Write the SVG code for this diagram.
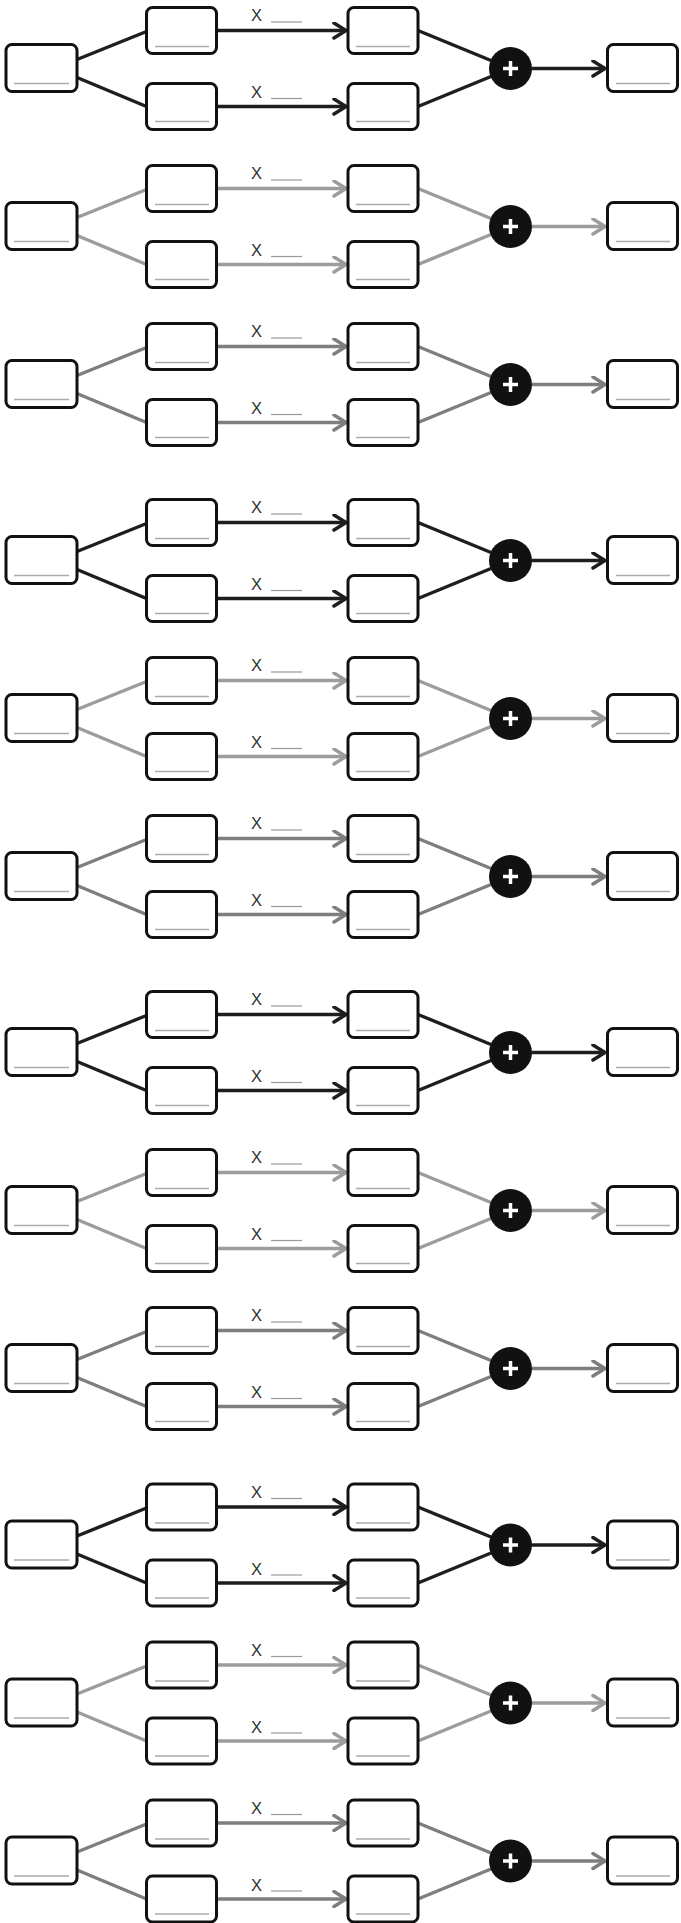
<svg xmlns="http://www.w3.org/2000/svg" width="681" height="1923" viewBox="0 0 681 1923">
<style>
.box{fill:#fff;stroke:#111;stroke-width:3}
.blank{stroke:#aaa;stroke-width:1.5;fill:none}
.sum{fill:#111}
.plus{stroke:#fff;stroke-width:3.5;fill:none}
.edge{fill:none;stroke-width:3.5}
.dark .edge{stroke:#1e1e1e}
.light .edge{stroke:#9c9c9c}
.mid .edge{stroke:#7e7e7e}
.dark .arr{marker-end:url(#ah-dark)}
.light .arr{marker-end:url(#ah-light)}
.mid .arr{marker-end:url(#ah-mid)}
.lbl{font-family:"Liberation Sans",Arial,sans-serif;font-size:16.5px;fill:#333}
.lblank{stroke:#9a9a9a;stroke-width:1.2}
</style>
<defs>
<marker id="ah-dark" viewBox="0 0 16 18" refX="12" refY="9" markerWidth="16" markerHeight="18" markerUnits="userSpaceOnUse" orient="auto"><path d="M2,1.5L14,9L2,16.5" fill="none" stroke="#1e1e1e" stroke-width="3.5" stroke-linecap="round" stroke-linejoin="round"/></marker>
<marker id="ah-light" viewBox="0 0 16 18" refX="12" refY="9" markerWidth="16" markerHeight="18" markerUnits="userSpaceOnUse" orient="auto"><path d="M2,1.5L14,9L2,16.5" fill="none" stroke="#9c9c9c" stroke-width="3.5" stroke-linecap="round" stroke-linejoin="round"/></marker>
<marker id="ah-mid" viewBox="0 0 16 18" refX="12" refY="9" markerWidth="16" markerHeight="18" markerUnits="userSpaceOnUse" orient="auto"><path d="M2,1.5L14,9L2,16.5" fill="none" stroke="#7e7e7e" stroke-width="3.5" stroke-linecap="round" stroke-linejoin="round"/></marker>
</defs>
<rect width="681" height="1923" fill="#fff"/>

<g id="row1" class="dark" transform="translate(0,68.5)">
<g id="r1-connectors"><line class="edge" x1="77" y1="-9" x2="146.5" y2="-37"/><line class="edge" x1="77" y1="9" x2="146.5" y2="38"/><line class="edge arr" x1="216.5" y1="-38" x2="344" y2="-38"/><line class="edge arr" x1="216.5" y1="38" x2="344" y2="38"/><line class="edge" x1="418" y1="-38" x2="491" y2="-8"/><line class="edge" x1="418" y1="38" x2="491" y2="8"/><line class="edge arr" x1="532" y1="0" x2="603" y2="0"/><text class="lbl" x="251" y="-47.5">X</text><line class="lblank" x1="271" y1="-46.5" x2="302" y2="-46.5"/><text class="lbl" x="251" y="29.5">X</text><line class="lblank" x1="271" y1="30" x2="302" y2="30"/></g>
<g id="r1-in"><rect class="box" x="6" y="-24" width="71" height="47" rx="6"/><line class="blank" x1="14" y1="15" x2="69" y2="15"/></g>
<g id="r1-a"><rect class="box" x="146.5" y="-61" width="70" height="46" rx="6"/><line class="blank" x1="155" y1="-22" x2="209" y2="-22"/></g>
<g id="r1-b"><rect class="box" x="146.5" y="15" width="70" height="46" rx="6"/><line class="blank" x1="155" y1="53" x2="209" y2="53"/></g>
<g id="r1-c"><rect class="box" x="348" y="-61" width="70" height="46" rx="6"/><line class="blank" x1="356" y1="-22" x2="410" y2="-22"/></g>
<g id="r1-d"><rect class="box" x="348" y="15" width="70" height="46" rx="6"/><line class="blank" x1="356" y1="53" x2="410" y2="53"/></g>
<g id="r1-sum"><circle class="sum" cx="510.5" cy="0" r="21.5"/><path class="plus" d="M503,0H518M510.5,-7.5V7.5"/></g>
<g id="r1-out"><rect class="box" x="607.5" y="-24" width="70" height="47" rx="6"/><line class="blank" x1="616" y1="15" x2="670" y2="15"/></g>
</g>

<g id="row2" class="light" transform="translate(0,226.5)">
<g id="r2-connectors"><line class="edge" x1="77" y1="-9" x2="146.5" y2="-37"/><line class="edge" x1="77" y1="9" x2="146.5" y2="38"/><line class="edge arr" x1="216.5" y1="-38" x2="344" y2="-38"/><line class="edge arr" x1="216.5" y1="38" x2="344" y2="38"/><line class="edge" x1="418" y1="-38" x2="491" y2="-8"/><line class="edge" x1="418" y1="38" x2="491" y2="8"/><line class="edge arr" x1="532" y1="0" x2="603" y2="0"/><text class="lbl" x="251" y="-47.5">X</text><line class="lblank" x1="271" y1="-46.5" x2="302" y2="-46.5"/><text class="lbl" x="251" y="29.5">X</text><line class="lblank" x1="271" y1="30" x2="302" y2="30"/></g>
<g id="r2-in"><rect class="box" x="6" y="-24" width="71" height="47" rx="6"/><line class="blank" x1="14" y1="15" x2="69" y2="15"/></g>
<g id="r2-a"><rect class="box" x="146.5" y="-61" width="70" height="46" rx="6"/><line class="blank" x1="155" y1="-22" x2="209" y2="-22"/></g>
<g id="r2-b"><rect class="box" x="146.5" y="15" width="70" height="46" rx="6"/><line class="blank" x1="155" y1="53" x2="209" y2="53"/></g>
<g id="r2-c"><rect class="box" x="348" y="-61" width="70" height="46" rx="6"/><line class="blank" x1="356" y1="-22" x2="410" y2="-22"/></g>
<g id="r2-d"><rect class="box" x="348" y="15" width="70" height="46" rx="6"/><line class="blank" x1="356" y1="53" x2="410" y2="53"/></g>
<g id="r2-sum"><circle class="sum" cx="510.5" cy="0" r="21.5"/><path class="plus" d="M503,0H518M510.5,-7.5V7.5"/></g>
<g id="r2-out"><rect class="box" x="607.5" y="-24" width="70" height="47" rx="6"/><line class="blank" x1="616" y1="15" x2="670" y2="15"/></g>
</g>

<g id="row3" class="mid" transform="translate(0,384.5)">
<g id="r3-connectors"><line class="edge" x1="77" y1="-9" x2="146.5" y2="-37"/><line class="edge" x1="77" y1="9" x2="146.5" y2="38"/><line class="edge arr" x1="216.5" y1="-38" x2="344" y2="-38"/><line class="edge arr" x1="216.5" y1="38" x2="344" y2="38"/><line class="edge" x1="418" y1="-38" x2="491" y2="-8"/><line class="edge" x1="418" y1="38" x2="491" y2="8"/><line class="edge arr" x1="532" y1="0" x2="603" y2="0"/><text class="lbl" x="251" y="-47.5">X</text><line class="lblank" x1="271" y1="-46.5" x2="302" y2="-46.5"/><text class="lbl" x="251" y="29.5">X</text><line class="lblank" x1="271" y1="30" x2="302" y2="30"/></g>
<g id="r3-in"><rect class="box" x="6" y="-24" width="71" height="47" rx="6"/><line class="blank" x1="14" y1="15" x2="69" y2="15"/></g>
<g id="r3-a"><rect class="box" x="146.5" y="-61" width="70" height="46" rx="6"/><line class="blank" x1="155" y1="-22" x2="209" y2="-22"/></g>
<g id="r3-b"><rect class="box" x="146.5" y="15" width="70" height="46" rx="6"/><line class="blank" x1="155" y1="53" x2="209" y2="53"/></g>
<g id="r3-c"><rect class="box" x="348" y="-61" width="70" height="46" rx="6"/><line class="blank" x1="356" y1="-22" x2="410" y2="-22"/></g>
<g id="r3-d"><rect class="box" x="348" y="15" width="70" height="46" rx="6"/><line class="blank" x1="356" y1="53" x2="410" y2="53"/></g>
<g id="r3-sum"><circle class="sum" cx="510.5" cy="0" r="21.5"/><path class="plus" d="M503,0H518M510.5,-7.5V7.5"/></g>
<g id="r3-out"><rect class="box" x="607.5" y="-24" width="70" height="47" rx="6"/><line class="blank" x1="616" y1="15" x2="670" y2="15"/></g>
</g>

<g id="row4" class="dark" transform="translate(0,560.5)">
<g id="r4-connectors"><line class="edge" x1="77" y1="-9" x2="146.5" y2="-37"/><line class="edge" x1="77" y1="9" x2="146.5" y2="38"/><line class="edge arr" x1="216.5" y1="-38" x2="344" y2="-38"/><line class="edge arr" x1="216.5" y1="38" x2="344" y2="38"/><line class="edge" x1="418" y1="-38" x2="491" y2="-8"/><line class="edge" x1="418" y1="38" x2="491" y2="8"/><line class="edge arr" x1="532" y1="0" x2="603" y2="0"/><text class="lbl" x="251" y="-47.5">X</text><line class="lblank" x1="271" y1="-46.5" x2="302" y2="-46.5"/><text class="lbl" x="251" y="29.5">X</text><line class="lblank" x1="271" y1="30" x2="302" y2="30"/></g>
<g id="r4-in"><rect class="box" x="6" y="-24" width="71" height="47" rx="6"/><line class="blank" x1="14" y1="15" x2="69" y2="15"/></g>
<g id="r4-a"><rect class="box" x="146.5" y="-61" width="70" height="46" rx="6"/><line class="blank" x1="155" y1="-22" x2="209" y2="-22"/></g>
<g id="r4-b"><rect class="box" x="146.5" y="15" width="70" height="46" rx="6"/><line class="blank" x1="155" y1="53" x2="209" y2="53"/></g>
<g id="r4-c"><rect class="box" x="348" y="-61" width="70" height="46" rx="6"/><line class="blank" x1="356" y1="-22" x2="410" y2="-22"/></g>
<g id="r4-d"><rect class="box" x="348" y="15" width="70" height="46" rx="6"/><line class="blank" x1="356" y1="53" x2="410" y2="53"/></g>
<g id="r4-sum"><circle class="sum" cx="510.5" cy="0" r="21.5"/><path class="plus" d="M503,0H518M510.5,-7.5V7.5"/></g>
<g id="r4-out"><rect class="box" x="607.5" y="-24" width="70" height="47" rx="6"/><line class="blank" x1="616" y1="15" x2="670" y2="15"/></g>
</g>

<g id="row5" class="light" transform="translate(0,718.5)">
<g id="r5-connectors"><line class="edge" x1="77" y1="-9" x2="146.5" y2="-37"/><line class="edge" x1="77" y1="9" x2="146.5" y2="38"/><line class="edge arr" x1="216.5" y1="-38" x2="344" y2="-38"/><line class="edge arr" x1="216.5" y1="38" x2="344" y2="38"/><line class="edge" x1="418" y1="-38" x2="491" y2="-8"/><line class="edge" x1="418" y1="38" x2="491" y2="8"/><line class="edge arr" x1="532" y1="0" x2="603" y2="0"/><text class="lbl" x="251" y="-47.5">X</text><line class="lblank" x1="271" y1="-46.5" x2="302" y2="-46.5"/><text class="lbl" x="251" y="29.5">X</text><line class="lblank" x1="271" y1="30" x2="302" y2="30"/></g>
<g id="r5-in"><rect class="box" x="6" y="-24" width="71" height="47" rx="6"/><line class="blank" x1="14" y1="15" x2="69" y2="15"/></g>
<g id="r5-a"><rect class="box" x="146.5" y="-61" width="70" height="46" rx="6"/><line class="blank" x1="155" y1="-22" x2="209" y2="-22"/></g>
<g id="r5-b"><rect class="box" x="146.5" y="15" width="70" height="46" rx="6"/><line class="blank" x1="155" y1="53" x2="209" y2="53"/></g>
<g id="r5-c"><rect class="box" x="348" y="-61" width="70" height="46" rx="6"/><line class="blank" x1="356" y1="-22" x2="410" y2="-22"/></g>
<g id="r5-d"><rect class="box" x="348" y="15" width="70" height="46" rx="6"/><line class="blank" x1="356" y1="53" x2="410" y2="53"/></g>
<g id="r5-sum"><circle class="sum" cx="510.5" cy="0" r="21.5"/><path class="plus" d="M503,0H518M510.5,-7.5V7.5"/></g>
<g id="r5-out"><rect class="box" x="607.5" y="-24" width="70" height="47" rx="6"/><line class="blank" x1="616" y1="15" x2="670" y2="15"/></g>
</g>

<g id="row6" class="mid" transform="translate(0,876.5)">
<g id="r6-connectors"><line class="edge" x1="77" y1="-9" x2="146.5" y2="-37"/><line class="edge" x1="77" y1="9" x2="146.5" y2="38"/><line class="edge arr" x1="216.5" y1="-38" x2="344" y2="-38"/><line class="edge arr" x1="216.5" y1="38" x2="344" y2="38"/><line class="edge" x1="418" y1="-38" x2="491" y2="-8"/><line class="edge" x1="418" y1="38" x2="491" y2="8"/><line class="edge arr" x1="532" y1="0" x2="603" y2="0"/><text class="lbl" x="251" y="-47.5">X</text><line class="lblank" x1="271" y1="-46.5" x2="302" y2="-46.5"/><text class="lbl" x="251" y="29.5">X</text><line class="lblank" x1="271" y1="30" x2="302" y2="30"/></g>
<g id="r6-in"><rect class="box" x="6" y="-24" width="71" height="47" rx="6"/><line class="blank" x1="14" y1="15" x2="69" y2="15"/></g>
<g id="r6-a"><rect class="box" x="146.5" y="-61" width="70" height="46" rx="6"/><line class="blank" x1="155" y1="-22" x2="209" y2="-22"/></g>
<g id="r6-b"><rect class="box" x="146.5" y="15" width="70" height="46" rx="6"/><line class="blank" x1="155" y1="53" x2="209" y2="53"/></g>
<g id="r6-c"><rect class="box" x="348" y="-61" width="70" height="46" rx="6"/><line class="blank" x1="356" y1="-22" x2="410" y2="-22"/></g>
<g id="r6-d"><rect class="box" x="348" y="15" width="70" height="46" rx="6"/><line class="blank" x1="356" y1="53" x2="410" y2="53"/></g>
<g id="r6-sum"><circle class="sum" cx="510.5" cy="0" r="21.5"/><path class="plus" d="M503,0H518M510.5,-7.5V7.5"/></g>
<g id="r6-out"><rect class="box" x="607.5" y="-24" width="70" height="47" rx="6"/><line class="blank" x1="616" y1="15" x2="670" y2="15"/></g>
</g>

<g id="row7" class="dark" transform="translate(0,1052.5)">
<g id="r7-connectors"><line class="edge" x1="77" y1="-9" x2="146.5" y2="-37"/><line class="edge" x1="77" y1="9" x2="146.5" y2="38"/><line class="edge arr" x1="216.5" y1="-38" x2="344" y2="-38"/><line class="edge arr" x1="216.5" y1="38" x2="344" y2="38"/><line class="edge" x1="418" y1="-38" x2="491" y2="-8"/><line class="edge" x1="418" y1="38" x2="491" y2="8"/><line class="edge arr" x1="532" y1="0" x2="603" y2="0"/><text class="lbl" x="251" y="-47.5">X</text><line class="lblank" x1="271" y1="-46.5" x2="302" y2="-46.5"/><text class="lbl" x="251" y="29.5">X</text><line class="lblank" x1="271" y1="30" x2="302" y2="30"/></g>
<g id="r7-in"><rect class="box" x="6" y="-24" width="71" height="47" rx="6"/><line class="blank" x1="14" y1="15" x2="69" y2="15"/></g>
<g id="r7-a"><rect class="box" x="146.5" y="-61" width="70" height="46" rx="6"/><line class="blank" x1="155" y1="-22" x2="209" y2="-22"/></g>
<g id="r7-b"><rect class="box" x="146.5" y="15" width="70" height="46" rx="6"/><line class="blank" x1="155" y1="53" x2="209" y2="53"/></g>
<g id="r7-c"><rect class="box" x="348" y="-61" width="70" height="46" rx="6"/><line class="blank" x1="356" y1="-22" x2="410" y2="-22"/></g>
<g id="r7-d"><rect class="box" x="348" y="15" width="70" height="46" rx="6"/><line class="blank" x1="356" y1="53" x2="410" y2="53"/></g>
<g id="r7-sum"><circle class="sum" cx="510.5" cy="0" r="21.5"/><path class="plus" d="M503,0H518M510.5,-7.5V7.5"/></g>
<g id="r7-out"><rect class="box" x="607.5" y="-24" width="70" height="47" rx="6"/><line class="blank" x1="616" y1="15" x2="670" y2="15"/></g>
</g>

<g id="row8" class="light" transform="translate(0,1210.5)">
<g id="r8-connectors"><line class="edge" x1="77" y1="-9" x2="146.5" y2="-37"/><line class="edge" x1="77" y1="9" x2="146.5" y2="38"/><line class="edge arr" x1="216.5" y1="-38" x2="344" y2="-38"/><line class="edge arr" x1="216.5" y1="38" x2="344" y2="38"/><line class="edge" x1="418" y1="-38" x2="491" y2="-8"/><line class="edge" x1="418" y1="38" x2="491" y2="8"/><line class="edge arr" x1="532" y1="0" x2="603" y2="0"/><text class="lbl" x="251" y="-47.5">X</text><line class="lblank" x1="271" y1="-46.5" x2="302" y2="-46.5"/><text class="lbl" x="251" y="29.5">X</text><line class="lblank" x1="271" y1="30" x2="302" y2="30"/></g>
<g id="r8-in"><rect class="box" x="6" y="-24" width="71" height="47" rx="6"/><line class="blank" x1="14" y1="15" x2="69" y2="15"/></g>
<g id="r8-a"><rect class="box" x="146.5" y="-61" width="70" height="46" rx="6"/><line class="blank" x1="155" y1="-22" x2="209" y2="-22"/></g>
<g id="r8-b"><rect class="box" x="146.5" y="15" width="70" height="46" rx="6"/><line class="blank" x1="155" y1="53" x2="209" y2="53"/></g>
<g id="r8-c"><rect class="box" x="348" y="-61" width="70" height="46" rx="6"/><line class="blank" x1="356" y1="-22" x2="410" y2="-22"/></g>
<g id="r8-d"><rect class="box" x="348" y="15" width="70" height="46" rx="6"/><line class="blank" x1="356" y1="53" x2="410" y2="53"/></g>
<g id="r8-sum"><circle class="sum" cx="510.5" cy="0" r="21.5"/><path class="plus" d="M503,0H518M510.5,-7.5V7.5"/></g>
<g id="r8-out"><rect class="box" x="607.5" y="-24" width="70" height="47" rx="6"/><line class="blank" x1="616" y1="15" x2="670" y2="15"/></g>
</g>

<g id="row9" class="mid" transform="translate(0,1368.5)">
<g id="r9-connectors"><line class="edge" x1="77" y1="-9" x2="146.5" y2="-37"/><line class="edge" x1="77" y1="9" x2="146.5" y2="38"/><line class="edge arr" x1="216.5" y1="-38" x2="344" y2="-38"/><line class="edge arr" x1="216.5" y1="38" x2="344" y2="38"/><line class="edge" x1="418" y1="-38" x2="491" y2="-8"/><line class="edge" x1="418" y1="38" x2="491" y2="8"/><line class="edge arr" x1="532" y1="0" x2="603" y2="0"/><text class="lbl" x="251" y="-47.5">X</text><line class="lblank" x1="271" y1="-46.5" x2="302" y2="-46.5"/><text class="lbl" x="251" y="29.5">X</text><line class="lblank" x1="271" y1="30" x2="302" y2="30"/></g>
<g id="r9-in"><rect class="box" x="6" y="-24" width="71" height="47" rx="6"/><line class="blank" x1="14" y1="15" x2="69" y2="15"/></g>
<g id="r9-a"><rect class="box" x="146.5" y="-61" width="70" height="46" rx="6"/><line class="blank" x1="155" y1="-22" x2="209" y2="-22"/></g>
<g id="r9-b"><rect class="box" x="146.5" y="15" width="70" height="46" rx="6"/><line class="blank" x1="155" y1="53" x2="209" y2="53"/></g>
<g id="r9-c"><rect class="box" x="348" y="-61" width="70" height="46" rx="6"/><line class="blank" x1="356" y1="-22" x2="410" y2="-22"/></g>
<g id="r9-d"><rect class="box" x="348" y="15" width="70" height="46" rx="6"/><line class="blank" x1="356" y1="53" x2="410" y2="53"/></g>
<g id="r9-sum"><circle class="sum" cx="510.5" cy="0" r="21.5"/><path class="plus" d="M503,0H518M510.5,-7.5V7.5"/></g>
<g id="r9-out"><rect class="box" x="607.5" y="-24" width="70" height="47" rx="6"/><line class="blank" x1="616" y1="15" x2="670" y2="15"/></g>
</g>

<g id="row10" class="dark" transform="translate(0,1545)">
<g id="r10-connectors"><line class="edge" x1="77" y1="-9" x2="146.5" y2="-37"/><line class="edge" x1="77" y1="9" x2="146.5" y2="38"/><line class="edge arr" x1="216.5" y1="-38" x2="344" y2="-38"/><line class="edge arr" x1="216.5" y1="38" x2="344" y2="38"/><line class="edge" x1="418" y1="-38" x2="491" y2="-8"/><line class="edge" x1="418" y1="38" x2="491" y2="8"/><line class="edge arr" x1="532" y1="0" x2="603" y2="0"/><text class="lbl" x="251" y="-47.5">X</text><line class="lblank" x1="271" y1="-46.5" x2="302" y2="-46.5"/><text class="lbl" x="251" y="29.5">X</text><line class="lblank" x1="271" y1="30" x2="302" y2="30"/></g>
<g id="r10-in"><rect class="box" x="6" y="-24" width="71" height="47" rx="6"/><line class="blank" x1="14" y1="15" x2="69" y2="15"/></g>
<g id="r10-a"><rect class="box" x="146.5" y="-61" width="70" height="46" rx="6"/><line class="blank" x1="155" y1="-22" x2="209" y2="-22"/></g>
<g id="r10-b"><rect class="box" x="146.5" y="15" width="70" height="46" rx="6"/><line class="blank" x1="155" y1="53" x2="209" y2="53"/></g>
<g id="r10-c"><rect class="box" x="348" y="-61" width="70" height="46" rx="6"/><line class="blank" x1="356" y1="-22" x2="410" y2="-22"/></g>
<g id="r10-d"><rect class="box" x="348" y="15" width="70" height="46" rx="6"/><line class="blank" x1="356" y1="53" x2="410" y2="53"/></g>
<g id="r10-sum"><circle class="sum" cx="510.5" cy="0" r="21.5"/><path class="plus" d="M503,0H518M510.5,-7.5V7.5"/></g>
<g id="r10-out"><rect class="box" x="607.5" y="-24" width="70" height="47" rx="6"/><line class="blank" x1="616" y1="15" x2="670" y2="15"/></g>
</g>

<g id="row11" class="light" transform="translate(0,1703)">
<g id="r11-connectors"><line class="edge" x1="77" y1="-9" x2="146.5" y2="-37"/><line class="edge" x1="77" y1="9" x2="146.5" y2="38"/><line class="edge arr" x1="216.5" y1="-38" x2="344" y2="-38"/><line class="edge arr" x1="216.5" y1="38" x2="344" y2="38"/><line class="edge" x1="418" y1="-38" x2="491" y2="-8"/><line class="edge" x1="418" y1="38" x2="491" y2="8"/><line class="edge arr" x1="532" y1="0" x2="603" y2="0"/><text class="lbl" x="251" y="-47.5">X</text><line class="lblank" x1="271" y1="-46.5" x2="302" y2="-46.5"/><text class="lbl" x="251" y="29.5">X</text><line class="lblank" x1="271" y1="30" x2="302" y2="30"/></g>
<g id="r11-in"><rect class="box" x="6" y="-24" width="71" height="47" rx="6"/><line class="blank" x1="14" y1="15" x2="69" y2="15"/></g>
<g id="r11-a"><rect class="box" x="146.5" y="-61" width="70" height="46" rx="6"/><line class="blank" x1="155" y1="-22" x2="209" y2="-22"/></g>
<g id="r11-b"><rect class="box" x="146.5" y="15" width="70" height="46" rx="6"/><line class="blank" x1="155" y1="53" x2="209" y2="53"/></g>
<g id="r11-c"><rect class="box" x="348" y="-61" width="70" height="46" rx="6"/><line class="blank" x1="356" y1="-22" x2="410" y2="-22"/></g>
<g id="r11-d"><rect class="box" x="348" y="15" width="70" height="46" rx="6"/><line class="blank" x1="356" y1="53" x2="410" y2="53"/></g>
<g id="r11-sum"><circle class="sum" cx="510.5" cy="0" r="21.5"/><path class="plus" d="M503,0H518M510.5,-7.5V7.5"/></g>
<g id="r11-out"><rect class="box" x="607.5" y="-24" width="70" height="47" rx="6"/><line class="blank" x1="616" y1="15" x2="670" y2="15"/></g>
</g>

<g id="row12" class="mid" transform="translate(0,1861)">
<g id="r12-connectors"><line class="edge" x1="77" y1="-9" x2="146.5" y2="-37"/><line class="edge" x1="77" y1="9" x2="146.5" y2="38"/><line class="edge arr" x1="216.5" y1="-38" x2="344" y2="-38"/><line class="edge arr" x1="216.5" y1="38" x2="344" y2="38"/><line class="edge" x1="418" y1="-38" x2="491" y2="-8"/><line class="edge" x1="418" y1="38" x2="491" y2="8"/><line class="edge arr" x1="532" y1="0" x2="603" y2="0"/><text class="lbl" x="251" y="-47.5">X</text><line class="lblank" x1="271" y1="-46.5" x2="302" y2="-46.5"/><text class="lbl" x="251" y="29.5">X</text><line class="lblank" x1="271" y1="30" x2="302" y2="30"/></g>
<g id="r12-in"><rect class="box" x="6" y="-24" width="71" height="47" rx="6"/><line class="blank" x1="14" y1="15" x2="69" y2="15"/></g>
<g id="r12-a"><rect class="box" x="146.5" y="-61" width="70" height="46" rx="6"/><line class="blank" x1="155" y1="-22" x2="209" y2="-22"/></g>
<g id="r12-b"><rect class="box" x="146.5" y="15" width="70" height="46" rx="6"/><line class="blank" x1="155" y1="53" x2="209" y2="53"/></g>
<g id="r12-c"><rect class="box" x="348" y="-61" width="70" height="46" rx="6"/><line class="blank" x1="356" y1="-22" x2="410" y2="-22"/></g>
<g id="r12-d"><rect class="box" x="348" y="15" width="70" height="46" rx="6"/><line class="blank" x1="356" y1="53" x2="410" y2="53"/></g>
<g id="r12-sum"><circle class="sum" cx="510.5" cy="0" r="21.5"/><path class="plus" d="M503,0H518M510.5,-7.5V7.5"/></g>
<g id="r12-out"><rect class="box" x="607.5" y="-24" width="70" height="47" rx="6"/><line class="blank" x1="616" y1="15" x2="670" y2="15"/></g>
</g>
</svg>
